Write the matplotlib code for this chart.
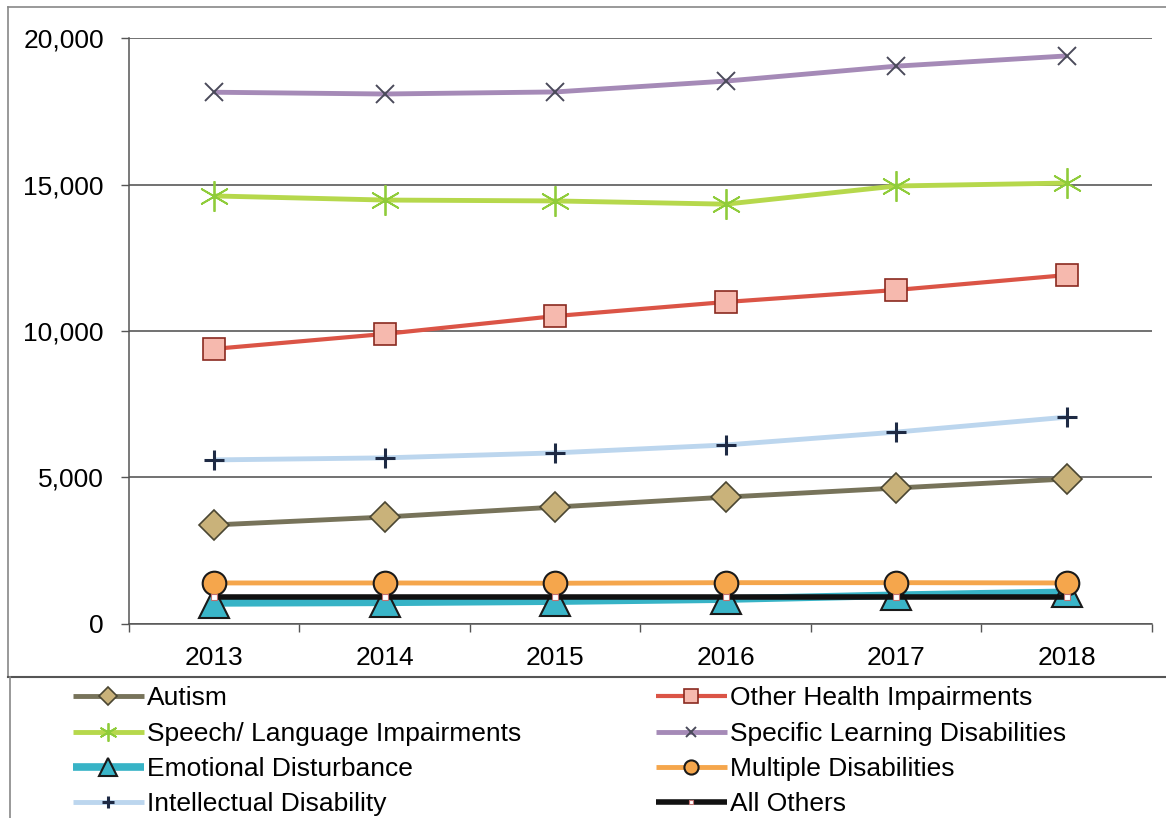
import matplotlib.pyplot as plt
from matplotlib.lines import Line2D
from matplotlib.ticker import FuncFormatter, FixedLocator

years = ['2013', '2014', '2015', '2016', '2017', '2018']

autism = [3380, 3650, 3990, 4330, 4640, 4950]
other_health = [9390, 9900, 10510, 10990, 11400, 11910]
speech_language = [14610, 14470, 14440, 14330, 14950, 15050]
learning_disab = [18150, 18090, 18160, 18530, 19040, 19390]
emotional = [720, 740, 780, 850, 980, 1080]
multiple_disab = [1400, 1400, 1390, 1410, 1410, 1400]
intellectual = [5600, 5670, 5840, 6110, 6550, 7060]
all_others = [920, 920, 920, 920, 920, 920]


def main() -> None:
    plt.rcParams['font.family'] = ['Liberation Sans', 'DejaVu Sans']
    fig = plt.figure(figsize=(11.66, 8.18), dpi=100)
    ax = fig.add_axes([0.1106, 0.2372, 0.8774, 0.7163])
    x = range(len(years))

    # (label, data, line colour, line width, marker, size, face, edge, mew)
    series = [
        ('Autism', autism, '#77735a', 3.5, 'D', 15, '#c9b27a', '#4a4632', 1.2),
        ('Other Health Impairments', other_health, '#db5446', 3.0, 's', 16,
         '#f6b9ae', '#8a2a20', 1.2),
        ('Speech/ Language Impairments', speech_language, '#b6d84c', 3.5,
         (6, 2, 0), 22, '#8fcc3a', '#8fcc3a', 1.3),
        ('Specific Learning Disabilities', learning_disab, '#a58ab7', 3.5,
         'x', 13, '#4a4a5a', '#4a4a5a', 1.4),
        ('Emotional Disturbance', emotional, '#37b3c6', 5.5, '^', 22,
         '#3ab5c8', '#1a1a1a', 1.5),
        ('Multiple Disabilities', multiple_disab, '#f5a64c', 3.5, 'o', 17,
         '#f5a64c', '#1a1a1a', 1.5),
        ('Intellectual Disability', intellectual, '#bcd6ee', 3.5, '+', 14,
         '#1e2a44', '#1e2a44', 2.2),
        ('All Others', all_others, '#111111', 4.0, 's', 5,
         '#ffffff', '#c07070', 0.8),
    ]

    handles = {}
    for lab, data, col, lw, mk, ms, fc, ec, mew in series:
        h, = ax.plot(x, data, color=col, lw=lw, marker=mk, ms=ms,
                     markerfacecolor=fc, markeredgecolor=ec,
                     markeredgewidth=mew, label=lab, zorder=3,
                     solid_capstyle='butt')
        handles[lab] = h

    ax.set_xlim(-0.5, len(years) - 0.5)
    ax.set_ylim(0, 20000)
    ax.set_yticks(range(0, 20001, 5000))
    ax.yaxis.set_major_formatter(FuncFormatter(lambda v, p: f'{int(v):,}'))
    ax.set_xticks(list(x))
    ax.set_xticklabels(years)
    ax.xaxis.set_minor_locator(FixedLocator([i - 0.5 for i in range(len(years) + 1)]))
    ax.tick_params(axis='x', which='major', length=0, pad=16, labelsize=19)
    ax.tick_params(axis='x', which='minor', length=6, width=1, color='#555555')
    ax.tick_params(axis='y', length=6, width=1, color='#555555', pad=12,
                   labelsize=19)
    ax.grid(axis='y', color='#4a4a4a', lw=1.1, zorder=1)
    for s in ('top', 'right'):
        ax.spines[s].set_visible(False)
    for s in ('left', 'bottom'):
        ax.spines[s].set_color('#555555')
        ax.spines[s].set_linewidth(1.1)

    # chart frame and legend box
    frame = dict(transform=fig.transFigure, color='#888888', lw=1.2)
    fig.add_artist(Line2D([0.007, 1.0], [0.991, 0.991], **frame))
    fig.add_artist(Line2D([0.007, 0.007], [0.172, 0.991], **frame))
    fig.add_artist(Line2D([0.007, 1.0], [0.172, 0.172], color='#555555',
                          lw=1.5, transform=fig.transFigure))
    fig.add_artist(Line2D([0.009, 0.009], [0.0, 0.172], **frame))

    left = ['Autism', 'Speech/ Language Impairments', 'Emotional Disturbance',
            'Intellectual Disability']
    right = ['Other Health Impairments', 'Specific Learning Disabilities',
             'Multiple Disabilities', 'All Others']
    opts = dict(frameon=False, fontsize=19, handlelength=2.7,
                handletextpad=0.1, labelspacing=0.43, markerscale=0.6,
                borderpad=0, loc='upper left')
    fig.legend([handles[k] for k in left], left,
               bbox_to_anchor=(0.051, 0.177), **opts)
    fig.legend([handles[k] for k in right], right,
               bbox_to_anchor=(0.551, 0.177), **opts)

    fig.savefig('out.png', dpi=100)


if __name__ == '__main__':
    main()
